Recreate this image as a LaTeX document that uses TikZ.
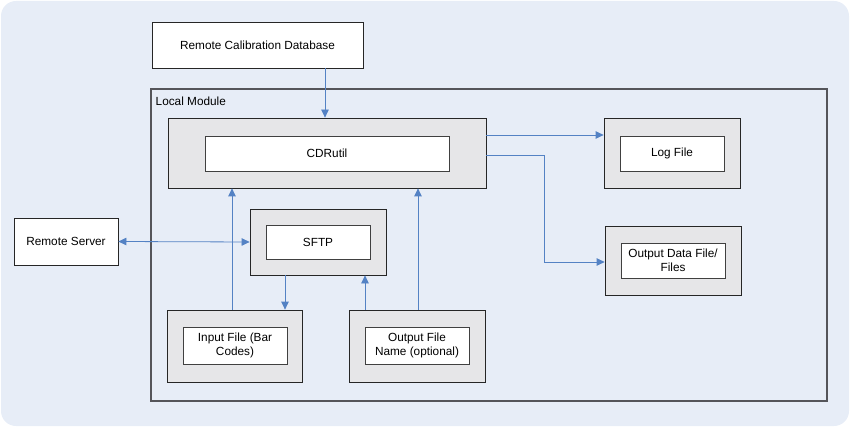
\documentclass[tikz,border=0pt]{standalone}
\usepackage{fontspec}
\setmainfont{Liberation Sans}
\usetikzlibrary{arrows.meta}
\definecolor{bgblue}{RGB}{231,237,247}
\definecolor{boxgray}{RGB}{230,230,232}
\definecolor{arrowblue}{RGB}{84,130,196}
\definecolor{lmborder}{RGB}{85,85,90}
\tikzset{
  outerbox/.style={draw=black!85, fill=boxgray, line width=0.8pt, inner sep=0pt},
  innerbox/.style={draw=black!75, fill=white, line width=0.8pt, inner sep=0pt, align=center,
    font=\fontsize{11.8}{14}\selectfont},
  plainbox/.style={draw=black!85, fill=white, line width=0.8pt, inner sep=0pt, align=center,
    font=\fontsize{11.8}{14}\selectfont},
  arr/.style={draw=arrowblue, line width=0.8pt, -{Triangle[length=8pt,width=7.5pt]}},
  darr/.style={draw=arrowblue, line width=0.8pt, {Triangle[length=8pt,width=7.5pt]}-{Triangle[length=8pt,width=7.5pt]}}
}
\begin{document}
\begin{tikzpicture}[x=1pt,y=-1pt]
\useasboundingbox (0,0) rectangle (850,427);
\fill[bgblue, rounded corners=15pt] (1,1) rectangle (849,426);

% Local module container
\node[draw=lmborder, line width=1.2pt, minimum width=676pt, minimum height=312pt, inner sep=0pt] (lm) at (489,245) {};
\node[anchor=west, inner sep=0pt, font=\fontsize{11.8}{14}\selectfont] (lmlabel) at (155.5,101) {Local Module};

% Remote calibration database
\node[plainbox, minimum width=211pt, minimum height=46pt] (rcd) at (257.5,45) {Remote Calibration Database};

% CDRutil
\node[outerbox, minimum width=318pt, minimum height=70pt] (cdr) at (327,153) {};
\node[innerbox, minimum width=244pt, minimum height=35pt] (cdri) at (327,153.5) {CDRutil};

% Log file
\node[outerbox, minimum width=136pt, minimum height=70pt] (log) at (672,153) {};
\node[innerbox, minimum width=104pt, minimum height=35pt] (logi) at (672,153.5) {Log File};

% Output data file
\node[outerbox, minimum width=136pt, minimum height=69pt] (od) at (673,260.5) {};
\node[innerbox, minimum width=104pt, minimum height=35pt] (odi) at (673,260.5) {Output Data File/\\Files};

% Remote server
\node[plainbox, minimum width=104pt, minimum height=47pt] (rs) at (66,241.5) {Remote Server};

% SFTP
\node[outerbox, minimum width=136pt, minimum height=66pt] (sftp) at (318,242) {};
\node[innerbox, minimum width=104pt, minimum height=34pt] (sftpi) at (318,242) {SFTP};

% Input file
\node[outerbox, minimum width=135pt, minimum height=72pt] (inf) at (234.5,346) {};
\node[innerbox, minimum width=104pt, minimum height=37pt] (infi) at (235,345.5) {Input File (Bar\\Codes)};

% Output file name
\node[outerbox, minimum width=136pt, minimum height=72pt] (ofn) at (417,346) {};
\node[innerbox, minimum width=104pt, minimum height=37pt] (ofni) at (417,345.5) {Output File\\Name (optional)};

% helper coordinates
\coordinate (xa) at (325,0);
\coordinate (xb) at (232,0);
\coordinate (xc) at (418,0);
\coordinate (xd) at (285,0);
\coordinate (xe) at (365,0);
\coordinate (xf) at (544,0);
\coordinate (ya) at (0,135);
\coordinate (yb) at (0,155);
\coordinate (yc) at (0,262);

% connectors
\draw[arr] (rcd.south -| xa) -- (cdr.north -| xa);
\draw[arr] (inf.north -| xb) -- (cdr.south -| xb);
\draw[arr] (ofn.north -| xc) -- (cdr.south -| xc);
\draw[arr] (cdr.east |- ya) -- (log.west |- ya);
\draw[arr] (cdr.east |- yb) -| (xf |- yc) -- (od.west |- yc);
\draw[darr] (rs.east) -- (sftp.west);
\draw[arr] (sftp.south -| xd) -- (inf.north -| xd);
\draw[arr] (ofn.north -| xe) -- (sftp.south -| xe);
\end{tikzpicture}
\end{document}
